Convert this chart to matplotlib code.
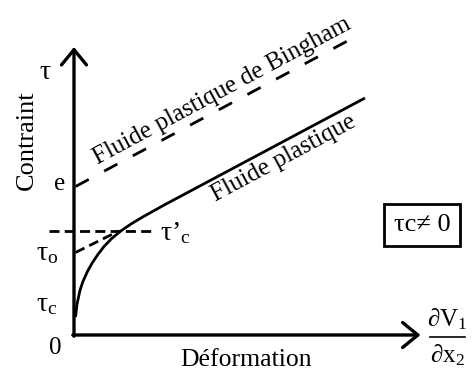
import matplotlib
matplotlib.use("Agg")
import matplotlib.pyplot as plt

plt.rcParams['font.family'] = ['Liberation Serif', 'DejaVu Serif']
plt.rcParams['mathtext.fontset'] = 'custom'
plt.rcParams['mathtext.rm'] = 'Liberation Serif'
plt.rcParams['mathtext.it'] = 'Liberation Serif:italic'

# Bingham plastic fluid: straight line starting at the yield value e
bingham_x = [0.05, 9.3]
bingham_y = [4.95, 9.9]

# Plastic fluid: curved start, then parallel to the Bingham line
plastic_x = [0.05, 0.1, 0.2, 0.3, 0.45, 0.6, 0.8, 1.0, 1.25, 1.55, 1.9, 2.3, 3.0, 9.7]
plastic_y = [0.6, 1.03, 1.49, 1.79, 2.12, 2.39, 2.69, 2.95, 3.21, 3.46, 3.70, 3.94, 4.33, 7.9]

# Extrapolation of the linear part back to the stress axis (tau_o)
tangent_x = [0.05, 1.5]
tangent_y = [2.75, 3.47]

# Horizontal level tau'_c
level_x = [-0.85, 2.7]
level_y = [3.47, 3.47]

x_axis_end = 11.55
y_axis_end = 9.6

fig = plt.figure(figsize=(4.76, 3.71), dpi=100)
ax = fig.add_axes([0, 0, 1, 1])
ax.set_xlim(-74 / 30, (476 - 74) / 30)
ax.set_ylim((335 - 371) / 30, 335 / 30)
ax.axis('off')

# axes with open arrowheads
arrow = dict(arrowstyle='->,head_length=0.55,head_width=0.45', lw=2.4, color='black',
             shrinkA=0, shrinkB=0, mutation_scale=20)
ax.annotate('', xy=(x_axis_end, 0), xytext=(-0.04, 0), arrowprops=arrow)
ax.annotate('', xy=(0, y_axis_end), xytext=(0, -0.04), arrowprops=arrow)

ax.plot(bingham_x, bingham_y, color='black', lw=2.0, dashes=(5.4, 6.3))
ax.plot(plastic_x, plastic_y, color='black', lw=2.0, solid_capstyle='butt',
        solid_joinstyle='round')
ax.plot(tangent_x, tangent_y, color='black', lw=2.0, dashes=(3.6, 1.9))
ax.plot(level_x, level_y, color='black', lw=2.0, dashes=(3.6, 1.9))

fs = 18
ax.text(-1.57, 6.5, 'Contraint', rotation=90, ha='center', va='center', fontsize=fs + 1)
ax.text(-0.95, 8.75, 'τ', ha='center', va='center', fontsize=fs + 2)
ax.text(-0.47, 5.05, 'e', ha='center', va='center', fontsize=fs)
ax.text(-0.9, 2.72, r'$\mathrm{τ_o}$', ha='center', va='center', fontsize=fs + 2)
ax.text(-0.9, 1.02, r'$\mathrm{τ_c}$', ha='center', va='center', fontsize=fs + 2)
ax.text(-0.63, -0.42, '0', ha='center', va='center', fontsize=fs)
ax.text(2.85, 3.4, r"$\mathrm{τ’_c}$", ha='left', va='center', fontsize=fs + 2)

ax.text(5.73, -0.83, 'Déformation', ha='center', va='center', fontsize=fs + 0.5)

# derivative label at the end of the deformation axis
ax.text(12.45, 0.52, r'$\mathrm{∂V_1}$', ha='center', va='center', fontsize=fs)
ax.text(12.45, -0.66, r'$\mathrm{∂x_2}$', ha='center', va='center', fontsize=fs)
ax.plot([11.88, 13.02], [-0.07, -0.07], color='black', lw=1.2)

ax.text(4.93, 8.12, 'Fluide plastique de Bingham', rotation=28.2, rotation_mode='anchor',
        ha='center', va='center', fontsize=fs)
ax.text(7.0, 5.9, 'Fluide plastique', rotation=28.2, rotation_mode='anchor',
        ha='center', va='center', fontsize=fs)

ax.text(11.6, 3.67, 'τc≠ 0', ha='center', va='center', fontsize=fs + 1,
        bbox=dict(boxstyle='square,pad=0.38', fc='white', ec='black', lw=2.0))

fig.savefig('out.png', dpi=100)
